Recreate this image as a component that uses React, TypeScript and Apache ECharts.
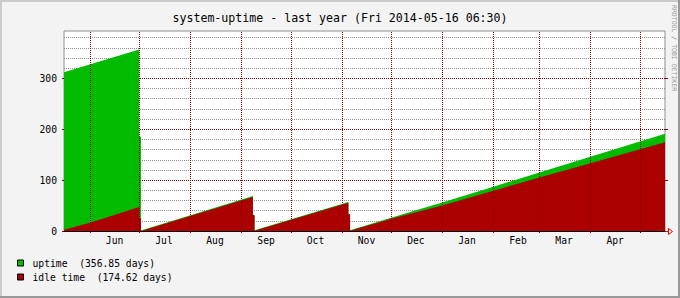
import React, { useEffect, useRef } from 'react';
import * as echarts from 'echarts';

// ---- data ----
const uptimeTimes = [
  '2013-05-16 06:30', '2013-07-01 00:00', '2013-07-01 00:00', '2013-07-02 00:00', '2013-07-02 00:00',
  '2013-09-08 00:00', '2013-09-08 00:00', '2013-09-09 00:00', '2013-09-09 00:00',
  '2013-11-05 00:00', '2013-11-05 00:00', '2013-11-06 00:00', '2013-11-06 00:00',
  '2013-12-01 00:00', '2013-12-15 00:00', '2014-01-01 00:00', '2014-02-01 00:00',
  '2014-03-01 00:00', '2014-04-01 00:00', '2014-05-16 06:30',
];
const uptimeValues = [312, 356.85, 185, 185, 1, 69, 32, 32, 1.5, 57, 33, 33, 1.5, 26, 40, 56, 87, 115, 146, 191];

const idleTimes = [
  '2013-05-16 06:30', '2013-06-01 00:00', '2013-07-01 00:00', '2013-07-01 00:00', '2013-07-02 00:00', '2013-07-02 00:00',
  '2013-09-08 00:00', '2013-09-08 00:00', '2013-09-09 00:00', '2013-09-09 00:00',
  '2013-11-05 00:00', '2013-11-05 00:00', '2013-11-06 00:00', '2013-11-06 00:00',
  '2013-12-01 00:00', '2013-12-15 00:00', '2014-01-01 00:00', '2014-02-01 00:00',
  '2014-03-01 00:00', '2014-04-01 00:00', '2014-05-16 06:30',
];
const idleValues = [2.5, 16, 47, 25, 25, 0, 67, 31, 31, 0.5, 55.5, 33, 33, 0.5, 24, 36, 50, 79, 105, 133, 174.62];

const monthStarts = [
  '2013-06-01', '2013-07-01', '2013-08-01', '2013-09-01', '2013-10-01', '2013-11-01',
  '2013-12-01', '2014-01-01', '2014-02-01', '2014-03-01', '2014-04-01', '2014-05-01',
];
const monthLabels = ['Jun', 'Jul', 'Aug', 'Sep', 'Oct', 'Nov', 'Dec', 'Jan', 'Feb', 'Mar', 'Apr'];
const yTickValues = [0, 100, 200, 300];

const rangeStart = '2013-05-16 06:30';
const rangeEnd = '2014-05-16 06:30';
const yMax = 393;

// ---- helpers ----
function t(s: string): number {
  const [d, hm] = s.split(' ');
  const [y, m, day] = d.split('-').map(Number);
  let h = 0, mi = 0;
  if (hm) { const p = hm.split(':').map(Number); h = p[0]; mi = p[1]; }
  return new Date(y, m - 1, day, h, mi).getTime();
}
const DAY = 86400000;
const MONO = '"DejaVu Sans Mono", monospace';
const MGRID = '#8a0000';
const GGRID = '#8f8f8f';
const GREEN = '#00BB00';
const RED = '#AA0000';

export default function App() {
  const ref = useRef<HTMLDivElement>(null);
  useEffect(() => {
    const chart = echarts.init(ref.current!, null, { renderer: 'svg' });
    const monthTs = monthStarts.map(t);
    const labelTs = monthLabels.map((_, i) => monthTs[i] + 15 * DAY);
    const uptimeData = uptimeTimes.map((s, i) => [t(s), uptimeValues[i]]);
    const idleData = idleTimes.map((s, i) => [t(s), idleValues[i]]);
    const upMax = Math.max(...uptimeValues).toFixed(2);
    const idleMax = Math.max(...idleValues).toFixed(2);
    const xMin = t(rangeStart);
    const xMax = t(rangeEnd);

    chart.setOption({
      animation: false,
      backgroundColor: '#F3F3F3',
      title: {
        text: 'system-uptime - last year (Fri 2014-05-16 06:30)',
        left: 'center',
        top: 7,
        textStyle: { fontFamily: MONO, fontSize: 11.6, fontWeight: 'normal', color: '#000' },
      },
      legend: {
        orient: 'vertical',
        left: 12,
        top: 252,
        itemWidth: 6,
        itemHeight: 6,
        itemGap: 2,
        icon: 'rect',
        selectedMode: false,
        itemStyle: { borderColor: '#000', borderWidth: 1 },
        textStyle: { fontFamily: MONO, fontSize: 9.7, color: '#000', lineHeight: 12, padding: [0, 0, 0, 4] },
        formatter: (name: string) =>
          name === 'uptime' ? `uptime  (${upMax} days)` : `idle time  (${idleMax} days)`,
        data: ['uptime', 'idle time'],
      },
      grid: {
        left: 64, top: 31, width: 601, height: 200,
        show: true, backgroundColor: '#FFFFFF', borderColor: '#909090', borderWidth: 1,
      },
      xAxis: [
        {
          type: 'value', min: xMin, max: xMax, position: 'bottom',
          axisLine: { show: true, lineStyle: { color: '#000', width: 1 } },
          axisTick: { show: true, customValues: monthTs, length: 2, lineStyle: { color: MGRID } },
          axisLabel: {
            customValues: labelTs,
            formatter: (v: number) => {
              const i = labelTs.findIndex((x) => Math.abs(x - v) < DAY);
              return i >= 0 ? monthLabels[i] : '';
            },
            fontFamily: MONO, fontSize: 9.7, color: '#000', margin: 4,
          },
          splitLine: { show: false },
        },
        {
          type: 'value', min: xMin, max: xMax, position: 'top',
          axisLine: { show: false },
          axisTick: { show: true, customValues: monthTs, length: 2, lineStyle: { color: MGRID } },
          axisLabel: { show: false },
          splitLine: { show: false },
        },
      ],
      yAxis: [
        {
          type: 'value', min: 0, max: yMax, interval: 20,
          axisLine: { show: false }, axisTick: { show: false }, axisLabel: { show: false },
          splitLine: {
            show: true, showMaxLine: false,
            lineStyle: { color: [MGRID, GGRID, GGRID, GGRID, GGRID], type: [1, 1], width: 1 },
          },
        },
        {
          type: 'value', min: 0, max: yMax, interval: 100, position: 'left',
          axisLine: { show: false },
          axisTick: { show: true, customValues: yTickValues, length: 2, lineStyle: { color: MGRID } },
          axisLabel: {
            customValues: yTickValues,
            formatter: (v: number) => (v % 100 === 0 ? String(v) : ''),
            fontFamily: MONO, fontSize: 9.7, color: '#000', margin: 7,
          },
          splitLine: { show: false },
        },
        {
          type: 'value', min: 0, max: yMax, interval: 100, position: 'right',
          axisLine: { show: false },
          axisTick: { show: true, customValues: yTickValues, length: 3, lineStyle: { color: MGRID } },
          axisLabel: { show: false },
          splitLine: { show: false },
        },
      ],
      series: [
        {
          name: 'month grid', type: 'line', xAxisIndex: 0, yAxisIndex: 0, z: 1,
          data: [], symbol: 'none', silent: true,
          markLine: {
            silent: true, symbol: ['none', 'none'], label: { show: false },
            lineStyle: { color: MGRID, type: [1, 1], width: 1 },
            emphasis: { disabled: true },
            data: monthTs.map((v) => ({ xAxis: v })),
          },
        },
        {
          name: 'uptime', type: 'line', xAxisIndex: 0, yAxisIndex: 0, z: 2,
          data: uptimeData, symbol: 'none', showSymbol: false,
          lineStyle: { width: 0, color: GREEN }, itemStyle: { color: GREEN },
          areaStyle: { color: GREEN, opacity: 1 },
        },
        {
          name: 'idle time', type: 'line', xAxisIndex: 0, yAxisIndex: 0, z: 3,
          data: idleData, symbol: 'none', showSymbol: false,
          lineStyle: { width: 0, color: RED }, itemStyle: { color: RED },
          areaStyle: { color: RED, opacity: 1 },
        },
      ],
      graphic: [
        { type: 'rect', shape: { x: 0, y: 0, width: 680, height: 2 }, style: { fill: '#CBCBCB' }, silent: true },
        { type: 'rect', shape: { x: 0, y: 0, width: 2, height: 298 }, style: { fill: '#CBCBCB' }, silent: true },
        { type: 'rect', shape: { x: 678, y: 0, width: 2, height: 298 }, style: { fill: '#999999' }, silent: true },
        { type: 'rect', shape: { x: 0, y: 296, width: 680, height: 2 }, style: { fill: '#999999' }, silent: true },
        {
          type: 'text', x: 673.5, y: 5, rotation: -Math.PI / 2, silent: true,
          style: { text: 'RRDTOOL / TOBI OETIKER', fontFamily: MONO, fontSize: 6.5, fill: '#999999', textAlign: 'left', textVerticalAlign: 'middle' },
        },
        {
          type: 'polyline', silent: true, z: 10,
          shape: { points: [[665, 231.5], [668, 231.5]] },
          style: { stroke: '#FF0000', lineWidth: 1, fill: 'none' },
        },
        {
          type: 'polygon', silent: true, z: 10,
          shape: { points: [[668.5, 228.5], [672.5, 231.5], [668.5, 234.5]] },
          style: { stroke: '#FF0000', lineWidth: 1, fill: 'none' },
        },
      ],
    });
    return () => chart.dispose();
  }, []);
  return <div ref={ref} style={{ position: 'fixed', left: 0, top: 0, width: 680, height: 298 }} />;
}
